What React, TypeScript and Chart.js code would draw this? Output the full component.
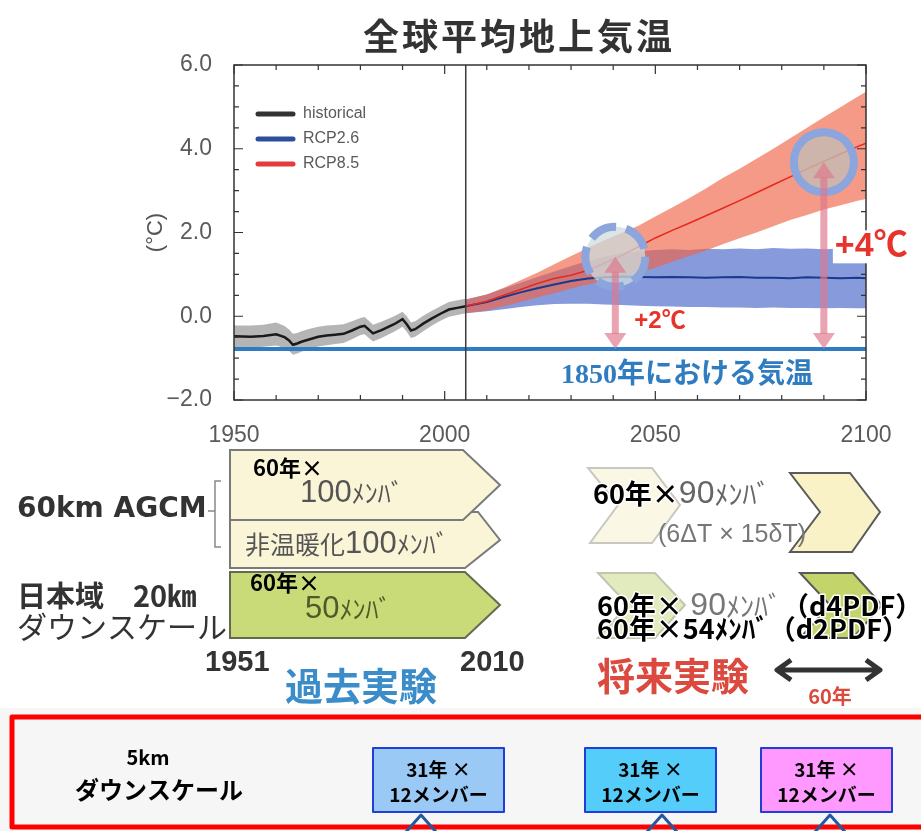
import React, { useEffect, useRef } from 'react';
import { Chart, registerables } from 'chart.js';

Chart.register(...registerables);

// ---- Historical ensemble, 1950–2005 (°C) ----
const histYears = [1950, 1954, 1957, 1960, 1962, 1963, 1964, 1965, 1966, 1968, 1970, 1972, 1974, 1976, 1978, 1980, 1981, 1982, 1983, 1985, 1988, 1990, 1991, 1992, 1993, 1995, 1997, 1999, 2001, 2003, 2005];
const histMean = [-0.48, -0.49, -0.47, -0.43, -0.5, -0.57, -0.68, -0.65, -0.61, -0.55, -0.49, -0.46, -0.44, -0.42, -0.34, -0.25, -0.23, -0.32, -0.41, -0.33, -0.19, -0.07, -0.19, -0.34, -0.31, -0.17, -0.05, 0.06, 0.16, 0.2, 0.24];
const histUpper = [-0.22, -0.22, -0.2, -0.15, -0.23, -0.31, -0.42, -0.4, -0.36, -0.3, -0.25, -0.22, -0.21, -0.19, -0.12, -0.04, -0.02, -0.11, -0.2, -0.13, 0.0, 0.11, 0.0, -0.15, -0.12, 0.02, 0.13, 0.24, 0.34, 0.38, 0.42];
const histLower = [-0.74, -0.75, -0.73, -0.7, -0.76, -0.82, -0.92, -0.89, -0.85, -0.78, -0.72, -0.69, -0.66, -0.64, -0.55, -0.45, -0.43, -0.52, -0.6, -0.52, -0.37, -0.25, -0.37, -0.52, -0.49, -0.35, -0.22, -0.11, -0.01, 0.03, 0.07];

// ---- Scenario projections, 2005–2100 (°C) ----
const projYears = [2005, 2010, 2014, 2018, 2022, 2026, 2030, 2034, 2038, 2042, 2046, 2050, 2054, 2058, 2062, 2066, 2070, 2074, 2078, 2082, 2086, 2090, 2094, 2098, 2100];
const rcp85Mean = [0.24, 0.36, 0.5, 0.64, 0.78, 0.9, 0.98, 1.1, 1.27, 1.45, 1.66, 1.87, 2.05, 2.22, 2.4, 2.58, 2.76, 2.95, 3.14, 3.33, 3.52, 3.7, 3.88, 4.05, 4.13];
const rcp85Upper = [0.4, 0.52, 0.68, 0.86, 1.04, 1.24, 1.44, 1.63, 1.82, 1.99, 2.16, 2.38, 2.6, 2.82, 3.05, 3.3, 3.52, 3.76, 4.0, 4.25, 4.5, 4.75, 5.0, 5.24, 5.36];
const rcp85Lower = [0.07, 0.14, 0.24, 0.34, 0.45, 0.55, 0.66, 0.76, 0.86, 0.95, 1.05, 1.16, 1.3, 1.44, 1.57, 1.72, 1.86, 2.0, 2.15, 2.3, 2.42, 2.55, 2.65, 2.76, 2.8];
const rcp26Mean = [0.24, 0.34, 0.46, 0.57, 0.67, 0.76, 0.84, 0.9, 0.93, 0.95, 0.94, 0.93, 0.94, 0.93, 0.92, 0.93, 0.94, 0.92, 0.92, 0.91, 0.93, 0.92, 0.91, 0.92, 0.91];
const rcp26Upper = [0.4, 0.52, 0.66, 0.8, 0.94, 1.07, 1.2, 1.32, 1.42, 1.5, 1.55, 1.58, 1.6, 1.58, 1.61, 1.6, 1.62, 1.6, 1.63, 1.61, 1.62, 1.6, 1.62, 1.61, 1.62];
const rcp26Lower = [0.07, 0.12, 0.17, 0.22, 0.26, 0.29, 0.3, 0.3, 0.28, 0.27, 0.25, 0.24, 0.23, 0.22, 0.22, 0.21, 0.21, 0.2, 0.21, 0.2, 0.2, 0.19, 0.2, 0.19, 0.19];

// Pre-industrial (1850) reference level
const baselineYears = [1950, 2100];
const baselineValue = -0.78;
const splitYear = 2005;

// Axis ticks
const xTickValues = [1950, 2000, 2050, 2100];
const yTickValues = [-2, 0, 2, 4, 6];

// Warming-level markers
const warmingYears = [2040.5, 2090];
const warmingValues = [1.42, 3.68];
const warmingLabels = ['+2℃', '+4℃'];

const legendNames = ['historical', 'RCP2.6', 'RCP8.5'];
const legendColors = ['#333333', '#2b4f9e', '#e23c3c'];

const JP = '"Noto Sans CJK JP", sans-serif';
const SANS = '"Liberation Sans", Arial, sans-serif';

const pts = (xs: number[], ys: number[]) => xs.map((x, i) => ({ x, y: ys[i] }));

const line = (label: string, data: any[], color: string, width: number) => ({
  label, data, borderColor: color, borderWidth: width, pointRadius: 0, fill: false, tension: 0,
});
const band = (label: string, data: any[], color: string, fill: any) => ({
  label, data, borderWidth: 0, borderColor: 'rgba(0,0,0,0)', pointRadius: 0, fill, backgroundColor: color, tension: 0,
});

type Run = [string, string, string, boolean?];
function runs(ctx: CanvasRenderingContext2D, x: number, y: number, items: Run[]) {
  ctx.textAlign = 'left';
  ctx.textBaseline = 'middle';
  let cx = x;
  for (const [t, f, c, halo] of items) {
    ctx.font = f;
    if (halo) {
      ctx.lineWidth = 3;
      ctx.lineJoin = 'round';
      ctx.strokeStyle = '#ffffff';
      ctx.strokeText(t, cx, y);
    }
    ctx.fillStyle = c;
    ctx.fillText(t, cx, y);
    cx += ctx.measureText(t).width;
  }
}
function text(ctx: CanvasRenderingContext2D, t: string, x: number, y: number, font: string, color: string, align: CanvasTextAlign = 'left') {
  ctx.font = font;
  ctx.textAlign = align;
  ctx.textBaseline = 'middle';
  ctx.fillStyle = color;
  ctx.fillText(t, x, y);
}
function poly(ctx: CanvasRenderingContext2D, p: number[][], fill: string, stroke: string, lw: number) {
  ctx.beginPath();
  p.forEach(([x, y], i) => (i ? ctx.lineTo(x, y) : ctx.moveTo(x, y)));
  ctx.closePath();
  ctx.fillStyle = fill;
  ctx.fill();
  ctx.lineWidth = lw;
  ctx.strokeStyle = stroke;
  ctx.lineJoin = 'miter';
  ctx.stroke();
}
function vArrow(ctx: CanvasRenderingContext2D, x: number, yTop: number, yBot: number, color: string) {
  const hw = 11, hh = 16;
  ctx.fillStyle = color;
  ctx.fillRect(x - 3.5, yTop + hh - 1, 7, yBot - yTop - 2 * hh + 2);
  ctx.beginPath();
  ctx.moveTo(x, yTop); ctx.lineTo(x + hw, yTop + hh); ctx.lineTo(x - hw, yTop + hh); ctx.closePath();
  ctx.fill();
  ctx.beginPath();
  ctx.moveTo(x, yBot); ctx.lineTo(x + hw, yBot - hh); ctx.lineTo(x - hw, yBot - hh); ctx.closePath();
  ctx.fill();
}

const decorations = {
  id: 'decorations',
  afterDatasetsDraw(chart: any) {
    const { ctx, chartArea: a, scales } = chart;
    const xs = scales.x, ys = scales.y;
    ctx.save();

    // boundary between historical and scenario runs
    const sx = xs.getPixelForValue(splitYear);
    ctx.strokeStyle = '#3a3a3a';
    ctx.lineWidth = 1.5;
    ctx.beginPath(); ctx.moveTo(sx, a.top); ctx.lineTo(sx, a.bottom); ctx.stroke();

    // warming-level circles
    warmingYears.forEach((yr, i) => {
      const cx = xs.getPixelForValue(yr), cy = ys.getPixelForValue(warmingValues[i]);
      ctx.beginPath();
      ctx.arc(cx, cy, 30, 0, Math.PI * 2);
      ctx.fillStyle = i === 0 ? 'rgba(205,220,222,0.75)' : 'rgba(196,188,180,0.8)';
      ctx.fill();
      ctx.lineWidth = 8;
      ctx.strokeStyle = '#8ca5dc';
      ctx.setLineDash(i === 0 ? [28, 10] : []);
      ctx.stroke();
      ctx.setLineDash([]);
    });

    // arrows from the 1850 level up to each warming level
    const by = ys.getPixelForValue(baselineValue);
    warmingYears.forEach((yr, i) => {
      const ax = xs.getPixelForValue(yr);
      vArrow(ctx, ax, ys.getPixelForValue(warmingValues[i]), by, 'rgba(222,120,140,0.68)');
    });

    // legend
    legendNames.forEach((name, i) => {
      const ly = a.top + 49 + i * 25;
      ctx.strokeStyle = legendColors[i];
      ctx.lineWidth = 5;
      ctx.lineCap = 'round';
      ctx.beginPath(); ctx.moveTo(a.left + 24, ly); ctx.lineTo(a.left + 59, ly); ctx.stroke();
      ctx.lineCap = 'butt';
      text(ctx, name, a.left + 69, ly, `16px ${SANS}`, '#5a5a5a');
    });

    // frame with inward ticks on all sides
    ctx.strokeStyle = '#333';
    ctx.lineWidth = 1.5;
    ctx.strokeRect(a.left, a.top, a.right - a.left, a.bottom - a.top);
    ctx.lineWidth = 1.2;
    ctx.beginPath();
    for (let yr = 1950; yr <= 2100; yr += 10) {
      const px = xs.getPixelForValue(yr);
      const len = yr % 50 === 0 ? 9 : 5;
      ctx.moveTo(px, a.bottom); ctx.lineTo(px, a.bottom - len);
      ctx.moveTo(px, a.top); ctx.lineTo(px, a.top + len);
    }
    for (let v = -2; v <= 6; v += 0.5) {
      const py = ys.getPixelForValue(v);
      const len = v % 2 === 0 ? 9 : 5;
      ctx.moveTo(a.left, py); ctx.lineTo(a.left + len, py);
      ctx.moveTo(a.right, py); ctx.lineTo(a.right - len, py);
    }
    ctx.stroke();

    // warming labels
    const l0x = xs.getPixelForValue(warmingYears[0]) + 19;
    text(ctx, warmingLabels[0], l0x, ys.getPixelForValue(-0.12), `bold 24px "Liberation Sans", "Noto Sans CJK JP"`, '#e8332a');
    const l1x = xs.getPixelForValue(warmingYears[1]) + 11;
    const l1y = ys.getPixelForValue(1.67);
    ctx.fillStyle = '#ffffff';
    ctx.fillRect(l1x - 2, l1y - 16, 921 - l1x + 2, 33);
    text(ctx, warmingLabels[1], l1x, l1y, `bold 34px "Liberation Sans", "Noto Sans CJK JP"`, '#e8332a');

    text(ctx, '1850年における気温', xs.getPixelForValue(2057.5), ys.getPixelForValue(-1.43),
      `bold 28px "Liberation Serif", "Noto Sans CJK JP"`, '#2f7cc0', 'center');

    ctx.restore();
  },
  afterDraw(chart: any) {
    const ctx: CanvasRenderingContext2D = chart.ctx;
    ctx.save();

    // heading
    (ctx as any).letterSpacing = '3px';
    text(ctx, '全球平均地上気温', 519, 36, `bold 36px ${JP}`, '#333', 'center');
    (ctx as any).letterSpacing = '0px';

    // ---- past experiments ----
    poly(ctx, [[230, 512], [478, 512], [500, 540], [465, 568], [230, 568]], '#fbf5d8', '#7a7a7a', 2);
    poly(ctx, [[230, 450], [463, 450], [500, 485], [463, 520], [230, 520]], '#fbf5d8', '#7a7a7a', 2);
    poly(ctx, [[230, 572], [465, 572], [500, 605], [465, 638], [230, 638]], '#c9da78', '#66684f', 2);

    runs(ctx, 300, 493, [['100', `31px ${SANS}`, '#555'], ['ﾒﾝﾊﾞ', `26px ${JP}`, '#555']]);
    runs(ctx, 253, 468, [['60年×', `bold 22px ${JP}`, '#000']]);
    runs(ctx, 245, 544, [['非温暖化', `25px ${JP}`, '#555'], ['100', `31px ${SANS}`, '#555'], ['ﾒﾝﾊﾞ', `26px ${JP}`, '#555']]);
    runs(ctx, 305, 609, [['50', `31px ${SANS}`, '#4f5a28'], ['ﾒﾝﾊﾞ', `26px ${JP}`, '#4f5a28']]);
    runs(ctx, 250, 583, [['60年×', `bold 22px ${JP}`, '#000']]);

    text(ctx, '60km AGCM', 17, 510, 'bold 28px "DejaVu Sans", sans-serif', '#333');
    ctx.strokeStyle = '#888';
    ctx.lineWidth = 1.5;
    ctx.beginPath();
    ctx.moveTo(221, 481); ctx.lineTo(215, 481); ctx.lineTo(215, 547); ctx.lineTo(221, 547);
    ctx.moveTo(215, 511); ctx.lineTo(208, 511);
    ctx.stroke();
    text(ctx, '日本域　20㎞', 17, 596, `bold 29px ${JP}`, '#333');
    text(ctx, 'ダウンスケール', 17, 627, `30px ${JP}`, '#333');

    text(ctx, '1951', 205, 663, `bold 29px ${SANS}`, '#333');
    text(ctx, '2010', 460, 663, `bold 29px ${SANS}`, '#333');
    text(ctx, '過去実験', 285, 686, `bold 38px ${JP}`, '#3b8dca');

    // ---- future experiments ----
    poly(ctx, [[588, 468], [652, 468], [680, 505], [652, 543], [590, 543], [618, 505]], '#faf7e4', '#c8c8c0', 2);
    poly(ctx, [[790, 473], [850, 473], [880, 512], [852, 552], [790, 552], [820, 512]], '#f9f2c6', '#5a5a5a', 2);
    poly(ctx, [[598, 573], [655, 573], [685, 605], [655, 638], [598, 638], [628, 605]], '#e2ebbd', '#c0c6b0', 2);
    poly(ctx, [[800, 573], [853, 573], [882, 605], [853, 638], [800, 638], [830, 605]], '#c3d56a', '#5a5a5a', 2);

    runs(ctx, 593, 494, [['60年×', `bold 27px ${JP}`, '#000', true], ['90', `32px ${SANS}`, '#666'], ['ﾒﾝﾊﾞ', `28px ${JP}`, '#666']]);
    text(ctx, '(6ΔT × 15δT)', 658, 535, `25px ${SANS}`, '#777');
    runs(ctx, 597, 606, [['60年×', `bold 27px ${JP}`, '#000', true], [' ', `27px ${SANS}`, '#000'], ['90', `32px ${SANS}`, '#777'], ['ﾒﾝﾊﾞ', `28px ${JP}`, '#777'], ['（d4PDF）', `bold 27px ${JP}`, '#000', true]]);
    runs(ctx, 597, 629, [['60年×54ﾒﾝﾊﾞ（d2PDF）', `bold 27px ${JP}`, '#000', true]]);

    text(ctx, '将来実験', 597, 676, `bold 38px ${JP}`, '#dc4a3f');
    ctx.strokeStyle = '#333';
    ctx.lineWidth = 5;
    ctx.beginPath();
    ctx.moveTo(778, 670); ctx.lineTo(879, 670);
    ctx.moveTo(791, 660); ctx.lineTo(777, 670); ctx.lineTo(791, 680);
    ctx.moveTo(866, 660); ctx.lineTo(880, 670); ctx.lineTo(866, 680);
    ctx.stroke();
    text(ctx, '60年', 830, 696, `bold 20px ${JP}`, '#dc4a3f', 'center');

    // ---- 5 km downscaling panel ----
    ctx.fillStyle = '#f6f6f6';
    ctx.fillRect(0, 708, 921, 123);
    ctx.strokeStyle = '#ff0000';
    ctx.lineWidth = 5;
    ctx.strokeRect(12, 717, 930, 110);
    text(ctx, '5km', 148, 757, `bold 20px ${JP}`, '#000', 'center');
    text(ctx, 'ダウンスケール', 159, 790, `bold 24px ${JP}`, '#000', 'center');

    const boxes: [number, string, number][] = [[373, '#99c9f4', 421], [585, '#55cdfb', 662], [761, '#ff99ff', 830]];
    boxes.forEach(([bx, fill, ax]) => {
      ctx.fillStyle = fill;
      ctx.fillRect(bx, 748, 131, 64);
      ctx.strokeStyle = '#1f3fd6';
      ctx.lineWidth = 2;
      ctx.strokeRect(bx, 748, 131, 64);
      text(ctx, '31年 ×', bx + 65.5, 770, `bold 19px ${JP}`, '#000', 'center');
      text(ctx, '12メンバー', bx + 65.5, 795, `bold 19px ${JP}`, '#000', 'center');
      ctx.strokeStyle = '#245a9c';
      ctx.lineWidth = 3;
      ctx.beginPath();
      ctx.moveTo(ax - 16, 833); ctx.lineTo(ax, 815); ctx.lineTo(ax + 16, 833);
      ctx.stroke();
    });

    ctx.restore();
  },
};

export default function App() {
  const ref = useRef<HTMLCanvasElement>(null);

  useEffect(() => {
    const datasets = [
      line('RCP8.5', pts(projYears, rcp85Mean), '#e8281e', 1.5),
      line('RCP2.6', pts(projYears, rcp26Mean), '#1a3a8c', 2),
      line('historical', pts(histYears, histMean), '#1a1a1a', 2.5),
      line('1850', pts(baselineYears, baselineYears.map(() => baselineValue)), '#2d7cc4', 4),
      band('RCP8.5 range', pts(projYears, rcp85Upper), 'rgba(240,100,70,0.65)', '+1'),
      band('RCP8.5 low', pts(projYears, rcp85Lower), 'rgba(0,0,0,0)', false),
      band('RCP2.6 range', pts(projYears, rcp26Upper), 'rgba(70,100,200,0.65)', '+1'),
      band('RCP2.6 low', pts(projYears, rcp26Lower), 'rgba(0,0,0,0)', false),
      band('historical range', pts(histYears, histUpper), 'rgba(120,120,120,0.55)', '+1'),
      band('historical low', pts(histYears, histLower), 'rgba(0,0,0,0)', false),
    ];

    const chart = new Chart(ref.current as HTMLCanvasElement, {
      type: 'line',
      data: { datasets },
      options: {
        responsive: false,
        animation: false,
        devicePixelRatio: 1,
        layout: { padding: { left: 143, right: 55, top: 65, bottom: 371 } },
        plugins: { legend: { display: false }, tooltip: { enabled: false }, title: { display: false } },
        scales: {
          x: {
            type: 'linear',
            min: 1950,
            max: 2100,
            grid: { display: false },
            border: { display: false },
            afterBuildTicks: (s: any) => { s.ticks = xTickValues.map((v) => ({ value: v })); },
            afterFit: (s: any) => { s.height = 60; },
            ticks: {
              autoSkip: false,
              maxRotation: 0,
              padding: 14,
              color: '#5a5a5a',
              font: { family: SANS, size: 23 },
              callback: (v: any) => String(v),
            },
          },
          y: {
            type: 'linear',
            min: -2,
            max: 6,
            grid: { display: false },
            border: { display: false },
            afterBuildTicks: (s: any) => { s.ticks = yTickValues.map((v) => ({ value: v })); },
            afterFit: (s: any) => { s.width = 91; },
            title: { display: true, text: '(°C)', color: '#555', font: { family: SANS, size: 22 }, padding: 0 },
            ticks: {
              padding: 14,
              color: '#5a5a5a',
              font: { family: SANS, size: 23 },
              callback: (v: any) => (v < 0 ? '−' : '') + Math.abs(v).toFixed(1),
            },
          },
        },
      },
      plugins: [decorations],
    } as any);

    return () => chart.destroy();
  }, []);

  return (
    <div style={{ position: 'absolute', left: 0, top: 0, width: 921, height: 831, background: '#ffffff' }}>
      <canvas ref={ref} width={921} height={831} style={{ display: 'block', width: 921, height: 831 }} />
    </div>
  );
}
